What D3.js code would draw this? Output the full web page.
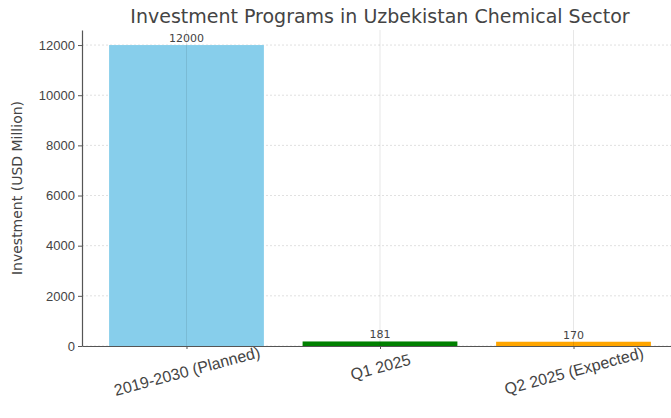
<!DOCTYPE html>
<html>
<head>
<meta charset="utf-8">
<script src="https://cdn.jsdelivr.net/npm/d3@7"></script>
<style>
  body { margin: 0; background: #fff; }
  svg { font-family: "DejaVu Sans", sans-serif; }
</style>
</head>
<body>
<svg id="chart"></svg>
<script>
const categories = ["2019-2030 (Planned)", "Q1 2025", "Q2 2025 (Expected)"];
const values = [12000, 181, 170];
const colors = ["#87CEEB", "#008000", "#FFA500"];
const yTicks = [0, 2000, 4000, 6000, 8000, 10000, 12000];

const width = 671, height = 418;
const margin = { top: 30, right: -7, bottom: 72, left: 82 };
const innerW = width - margin.left - margin.right;
const innerH = height - margin.top - margin.bottom;

const svg = d3.select("#chart").attr("width", width).attr("height", height);
const g = svg.append("g").attr("transform", `translate(${margin.left},${margin.top})`);

// matplotlib-like x range: bars 0.8 wide, 5% margins
const x = d3.scaleLinear().domain([-0.54, categories.length - 1 + 0.54]).range([0, innerW]);
const y = d3.scaleLinear().domain([0, 12600]).range([innerH, 0]);
const unit = x(1) - x(0);

// horizontal grid (behind bars)
g.selectAll(".hgrid").data(yTicks).enter().append("line")
  .attr("x1", 0).attr("x2", innerW)
  .attr("y1", d => y(d)).attr("y2", d => y(d))
  .attr("stroke", "#d8d8d8").attr("stroke-width", 0.8).attr("stroke-dasharray", "2,2");

// bars
g.selectAll(".bar").data(values).enter().append("rect")
  .attr("x", (d, i) => x(i) - unit * 0.4)
  .attr("width", unit * 0.8)
  .attr("y", d => y(d))
  .attr("height", d => innerH - y(d))
  .attr("fill", (d, i) => colors[i]);

// vertical grid (over bars, faint)
g.selectAll(".vgrid").data(categories).enter().append("line")
  .attr("x1", (d, i) => x(i)).attr("x2", (d, i) => x(i))
  .attr("y1", 0).attr("y2", innerH)
  .attr("stroke", "#000").attr("stroke-opacity", 0.12).attr("stroke-width", 0.8);

// value labels
g.selectAll(".val").data(values).enter().append("text")
  .attr("x", (d, i) => x(i))
  .attr("y", d => y(d) - 3)
  .attr("text-anchor", "middle")
  .attr("font-size", 11)
  .attr("fill", "#444")
  .text(d => d);

// axes
const yAxis = g.append("g").call(d3.axisLeft(y).tickValues(yTicks).tickFormat(d3.format("d"))
  .tickSize(4).tickSizeOuter(0).tickPadding(3));
const xAxis = g.append("g").attr("transform", `translate(0,${innerH})`)
  .call(d3.axisBottom(x).tickValues(d3.range(categories.length)).tickFormat(i => categories[i])
    .tickSize(3).tickSizeOuter(0));

[yAxis, xAxis].forEach(a => {
  a.select(".domain").attr("stroke", "#555").attr("stroke-width", 1.2);
  a.selectAll(".tick line").attr("stroke", "#555");
  a.selectAll(".tick text").attr("fill", "#444").attr("font-size", 13);
});

// rotated x labels, centered on the tick (rotation 15)
xAxis.selectAll(".tick text")
  .attr("font-size", 16)
  .attr("text-anchor", "middle")
  .attr("y", 0)
  .attr("dy", "0.35em")
  .attr("transform", function () {
    const L = this.getComputedTextLength();
    const cy = 18 + 0.047 * L;
    return `translate(0,${cy}) rotate(-15)`;
  });

// title
svg.append("text")
  .attr("x", margin.left + innerW / 2)
  .attr("y", 23)
  .attr("text-anchor", "middle")
  .attr("font-size", 19)
  .attr("fill", "#444")
  .text("Investment Programs in Uzbekistan Chemical Sector");

// y label
svg.append("text")
  .attr("transform", `translate(22,${margin.top + innerH / 2}) rotate(-90)`)
  .attr("text-anchor", "middle")
  .attr("font-size", 14)
  .attr("fill", "#444")
  .text("Investment (USD Million)");
</script>
</body>
</html>
